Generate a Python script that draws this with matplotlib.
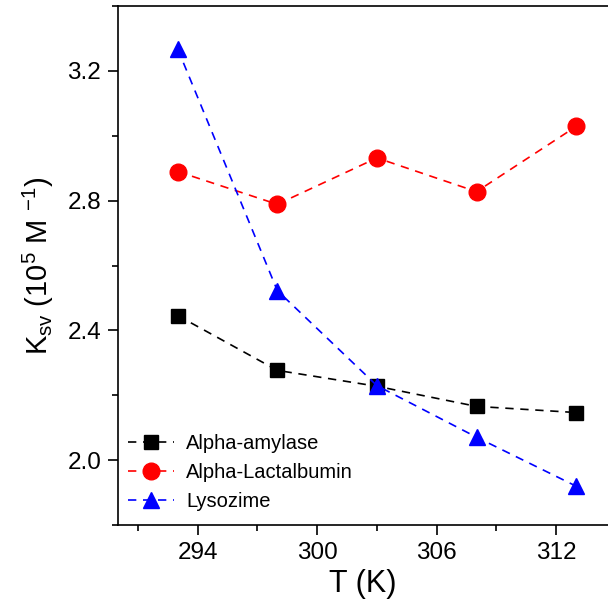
import matplotlib.pyplot as plt
from matplotlib.ticker import MultipleLocator

plt.rcParams['font.family'] = ['Liberation Sans', 'DejaVu Sans']
plt.rcParams['mathtext.default'] = 'regular'

# temperatures (K)
temps = [293, 298, 303, 308, 313]

# Ksv values (10^5 M^-1)
amylase = [2.446, 2.277, 2.228, 2.166, 2.147]
lactalbumin = [2.890, 2.789, 2.932, 2.828, 3.029]
lysozime = [3.268, 2.523, 2.230, 2.071, 1.920]

names = ["Alpha-amylase", "Alpha-Lactalbumin", "Lysozime"]

fig = plt.figure(figsize=(6.08, 6.12), dpi=100)
ax = fig.add_axes([0.194, 0.142, 0.806, 0.848])

ax.plot(temps, amylase, ls=(0, (5, 4)), lw=1.2, color="black",
        marker="s", ms=10, label=names[0])
ax.plot(temps, lactalbumin, ls=(0, (5, 4)), lw=1.2, color="red",
        marker="o", ms=12, label=names[1])
ax.plot(temps, lysozime, ls=(0, (5, 4)), lw=1.2, color="blue",
        marker="^", ms=12, label=names[2])

ax.set_xlim(290, 314.6)
ax.set_ylim(1.8, 3.4)
ax.xaxis.set_major_locator(MultipleLocator(6))
ax.xaxis.set_minor_locator(MultipleLocator(3))
ax.yaxis.set_major_locator(MultipleLocator(0.4))
ax.yaxis.set_minor_locator(MultipleLocator(0.2))
ax.yaxis.set_major_formatter(plt.FormatStrFormatter("%.1f"))

ax.spines["right"].set_visible(False)
for s in ["left", "bottom", "top"]:
    ax.spines[s].set_linewidth(1.2)
ax.tick_params(which="major", direction="out", length=7, width=1.2,
               labelsize=17.5, pad=5)
ax.tick_params(which="minor", direction="out", length=4, width=1.2)
ax.tick_params(top=False, right=False, which="both")

ax.set_xlabel("T (K)", fontsize=22, labelpad=4)
ax.set_ylabel("K$_{sv}$ (10$^{5}$ M $^{-1}$)", fontsize=21, labelpad=8)

ax.legend(loc="lower left", frameon=False, fontsize=14.5, handlelength=2.3,
          labelspacing=0.48, borderaxespad=0, borderpad=0,
          handletextpad=0.6, bbox_to_anchor=(0.02, 0.028))

fig.savefig("out.png", dpi=100)
